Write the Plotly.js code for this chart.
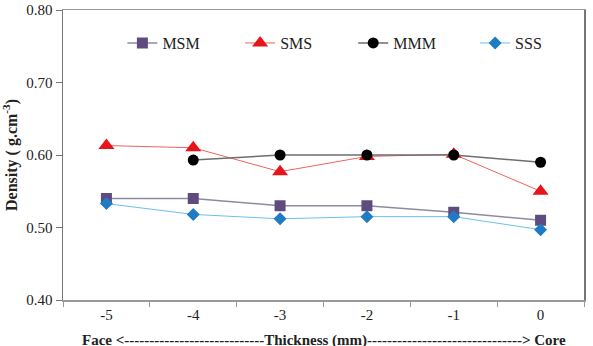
<!DOCTYPE html>
<html>
<head>
<meta charset="utf-8">
<script src="https://cdn.plot.ly/plotly-3.0.1.min.js"></script>
<style>
  html, body { margin: 0; padding: 0; background: #fff; }
  #chart { width: 593px; height: 346px; }
</style>
</head>
<body>
<div id="chart"></div>
<script>
// Distance from the face towards the core (mm)
const thickness = ['-5', '-4', '-3', '-2', '-1', '0'];

// Density profiles (g.cm-3) for each layer arrangement
const msm = [0.540, 0.540, 0.530, 0.530, 0.521, 0.510];
const sms = [0.613, 0.610, 0.577, 0.598, 0.601, 0.550];
const mmm = [null, 0.593, 0.600, 0.600, 0.600, 0.590];
const sss = [0.533, 0.518, 0.512, 0.515, 0.515, 0.497];

const yTicks = [0.40, 0.50, 0.60, 0.70, 0.80];
const yTickText = ['0.40', '0.50', '0.60', '0.70', '0.80'];

const serif = '"Liberation Serif"';

const traces = [
  {
    name: 'MSM', x: thickness, y: msm, mode: 'lines+markers', legend: 'legend',
    line: { color: '#8f8a9e', width: 1.5 },
    marker: { symbol: 'square', size: 11, color: '#5f4b7d' }
  },
  {
    name: 'SMS', x: thickness, y: sms, mode: 'lines+markers', legend: 'legend2',
    line: { color: '#f0625e', width: 1 },
    marker: { symbol: 'triangle-up', size: 14, color: '#e8141b' }
  },
  {
    name: 'MMM', x: thickness, y: mmm, mode: 'lines+markers', legend: 'legend3',
    line: { color: '#6e6e6e', width: 1.5 },
    marker: { symbol: 'circle', size: 11, color: '#000000' }
  },
  {
    name: 'SSS', x: thickness, y: sss, mode: 'lines+markers', legend: 'legend4',
    line: { color: '#6cc0ee', width: 1 },
    marker: { symbol: 'diamond', size: 10, color: '#1f7cc4' }
  }
];

// one single-entry legend per series, spread across the top of the plot
function legendAt(x) {
  return {
    x: x, y: 0.886, xanchor: 'left', yanchor: 'middle',
    font: { family: serif, size: 16, color: '#222' },
    bgcolor: 'rgba(0,0,0,0)', borderwidth: 0, itemwidth: 30
  };
}

const layout = {
  width: 593, height: 346,
  margin: { l: 63, r: 9, t: 10, b: 46 },
  paper_bgcolor: '#ffffff', plot_bgcolor: '#ffffff',
  font: { family: serif, size: 15, color: '#222' },
  showlegend: true,
  legend: legendAt(0.114),
  legend2: legendAt(0.340),
  legend3: legendAt(0.557),
  legend4: legendAt(0.791),
  xaxis: {
    type: 'category', range: [-0.5, 5.5],
    tickson: 'boundaries', ticks: 'outside', ticklen: 5, tickcolor: '#999',
    showline: true, linecolor: '#999', linewidth: 1.5, mirror: true,
    showgrid: false, zeroline: false,
    tickfont: { family: serif, size: 15, color: '#222' }
  },
  yaxis: {
    range: [0.40, 0.80], tickvals: yTicks, ticktext: yTickText,
    ticks: 'outside', ticklen: 6, tickcolor: '#777',
    showline: true, linecolor: '#777', linewidth: 1.5, mirror: true,
    showgrid: false, zeroline: false,
    tickfont: { family: serif, size: 15, color: '#222' },
    title: {
      text: '<b>Density ( g.cm<sup>-3</sup>)</b>',
      font: { family: serif, size: 16, color: '#222' },
      standoff: 8
    }
  },
  // thickness axis caption, sitting low at the bottom edge of the figure
  annotations: [{
    xref: 'paper', yref: 'paper', x: 0.5, y: 0,
    xanchor: 'center', yanchor: 'top', yshift: -30, showarrow: false,
    text: '<b>Face <----------------------------Thickness (mm)-------------------------------> Core</b>',
    font: { family: serif, size: 15, color: '#222' }
  }]
};

Plotly.newPlot('chart', traces, layout, { displayModeBar: false, staticPlot: true });
</script>
</body>
</html>
